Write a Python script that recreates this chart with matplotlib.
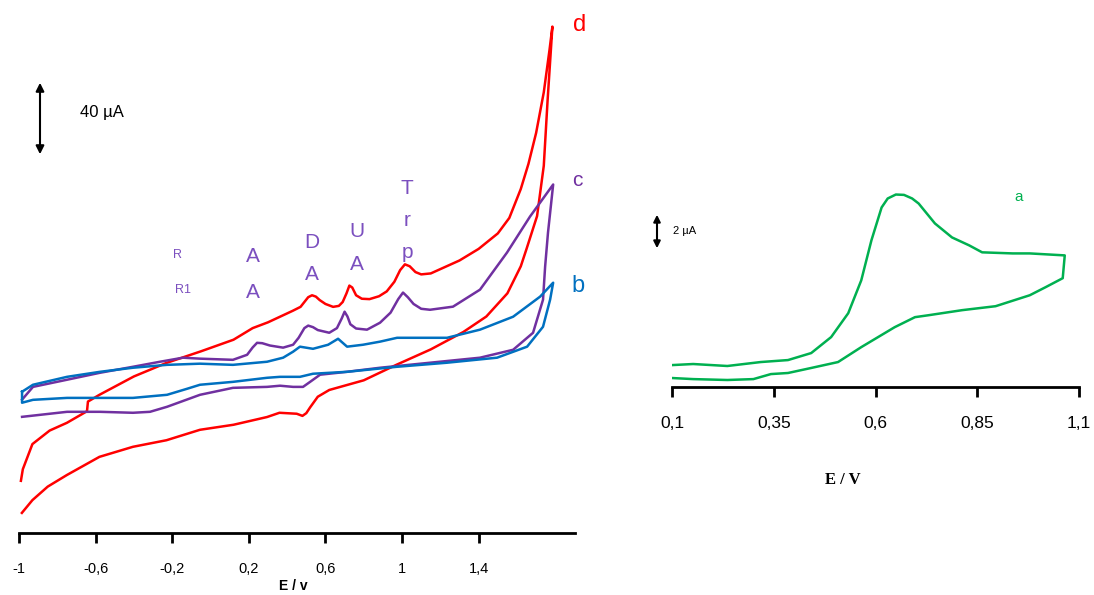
import matplotlib
matplotlib.use("Agg")
import matplotlib.pyplot as plt

plt.rcParams['font.family'] = ['Liberation Sans', 'DejaVu Sans']

# ---- left panel: CVs (E / V, current in uA) ----
d_x = [-0.99, -0.98, -0.93, -0.84, -0.75, -0.645, -0.64, -0.58, -0.40, -0.23, -0.05, 0.12,
       0.22, 0.30, 0.43, 0.47, 0.49, 0.51, 0.53, 0.55, 0.57, 0.60, 0.64, 0.67, 0.69, 0.71,
       0.725, 0.74, 0.76, 0.79, 0.83, 0.88, 0.92, 0.96, 0.99, 1.015, 1.04, 1.07, 1.10, 1.15,
       1.30, 1.40, 1.50, 1.56, 1.62, 1.66, 1.70, 1.74, 1.77, 1.785,
       1.76, 1.74, 1.705, 1.65, 1.62, 1.55, 1.44, 1.32, 1.15, 0.97, 0.80, 0.62, 0.56, 0.52,
       0.50, 0.48, 0.45, 0.36, 0.295, 0.12, -0.055, -0.23, -0.405, -0.58, -0.75, -0.85,
       -0.93, -0.985]
d_y = [27, 33, 46, 53, 57, 63, 68, 71.5, 81, 88, 94, 100,
       106, 109, 115, 117, 119.5, 122, 123, 122.3, 120.5, 118.5, 117, 117.5, 119.5, 124,
       128, 127, 123, 121.2, 121, 122.5, 125, 130, 136, 139, 138, 135, 133.8, 134.3,
       141, 147, 155, 163, 178, 191, 207, 228, 250, 262,
       224, 190, 164, 147, 138, 124, 112, 104, 95, 87, 79, 74, 70.5, 65,
       62, 60.6, 61.7, 62.2, 60, 56, 53.4, 48, 44.6, 39.4, 30, 24,
       17, 10.4]

c_x = [-0.984, -0.927, -0.749, -0.577, -0.405, -0.264, -0.144, -0.055, 0.117, 0.191, 0.22,
       0.243, 0.27, 0.31, 0.379, 0.431, 0.46, 0.49, 0.51, 0.535, 0.56, 0.62, 0.66, 0.685,
       0.70, 0.715, 0.73, 0.76, 0.817, 0.885, 0.94, 0.98, 1.005, 1.03, 1.06, 1.10, 1.146,
       1.266, 1.407, 1.548, 1.668, 1.789,
       1.762, 1.747, 1.736, 1.684, 1.580, 1.407, 1.146, 0.885, 0.713, 0.572, 0.520, 0.483,
       0.431, 0.363, 0.295, 0.117, -0.055, -0.227, -0.316, -0.405, -0.577, -0.749, -0.984]
c_y = [69, 75.6, 79.3, 82.9, 86.0, 88.6, 90.7, 90.2, 89.6, 92.2, 96,
       98.4, 98.2, 97, 95.9, 97.4, 101, 106, 107.3, 106.5, 105, 103.6, 106, 111,
       114.5, 112, 108, 105.8, 105.2, 108.8, 114, 121, 124.4, 122, 118.5, 116, 115.5,
       117.1, 125.9, 145.1, 163.7, 180.3,
       155.4, 137.8, 120.7, 103.6, 94.8, 90.7, 88.1, 85.5, 83.4, 81.9, 78.2, 75.6,
       75.6, 76.2, 75.6, 75.1, 71.5, 65.3, 62.7, 62.2, 62.7, 62.7, 60.1]

b_x = [-0.984, -0.927, -0.749, -0.577, -0.405, -0.227, -0.055, 0.117, 0.295, 0.379, 0.431,
       0.467, 0.535, 0.614, 0.666, 0.713, 0.796, 0.885, 0.974, 1.057, 1.235, 1.407, 1.580,
       1.721, 1.789,
       1.773, 1.736, 1.653, 1.496, 1.235, 0.974, 0.713, 0.535, 0.467, 0.363, 0.295, 0.117,
       -0.055, -0.123, -0.227, -0.405, -0.577, -0.749, -0.927, -0.984, -0.984]
b_y = [73.1, 76.7, 80.8, 83.4, 85.5, 87.0, 87.6, 87.0, 88.6, 90.7, 93.8,
       96.4, 95.3, 97.4, 100.5, 96.4, 97.4, 99.0, 101.0, 101.0, 101.0, 105.2, 111.9,
       122.3, 129.5,
       120.7, 106.7, 96.4, 90.7, 88.1, 86.0, 83.4, 82.4, 80.8, 80.8, 80.3, 78.2,
       76.7, 74.6, 71.5, 69.9, 69.9, 69.9, 68.9, 67.4, 73.1]

left_ticks = [-1, -0.6, -0.2, 0.2, 0.6, 1, 1.4]
left_labels = ['-1', '-0,6', '-0,2', '0,2', '0,6', '1', '1,4']

# ---- right panel: curve a ----
a_x = [0.1, 0.152, 0.236, 0.318, 0.385, 0.442, 0.491, 0.533, 0.565, 0.590, 0.615, 0.63,
       0.65, 0.67, 0.69, 0.706, 0.746, 0.788, 0.830, 0.862, 0.937, 0.979, 1.065,
       1.060, 1.018, 0.979, 0.895, 0.813, 0.731, 0.697, 0.647, 0.565, 0.508, 0.442, 0.385,
       0.343, 0.300, 0.236, 0.152, 0.1]
a_y = [1.22, 1.28, 1.17, 1.39, 1.50, 1.89, 2.78, 4.11, 5.94, 8.17, 10.0, 10.5,
       10.72, 10.7, 10.5, 10.22, 9.11, 8.33, 7.89, 7.5, 7.44, 7.44, 7.33,
       6.06, 5.56, 5.11, 4.5, 4.28, 4.0, 3.89, 3.33, 2.22, 1.39, 1.06, 0.78,
       0.72, 0.44, 0.39, 0.44, 0.5]

right_ticks = [0.1, 0.35, 0.6, 0.85, 1.1]
right_labels = ['0,1', '0,35', '0,6', '0,85', '1,1']

W, H = 1094, 595
fig = plt.figure(figsize=(W / 100, H / 100), dpi=100)


def fx(px):
    return px / W


def fy(py):
    return 1 - py / H


def style_axis(ax):
    for s in ['left', 'top', 'right']:
        ax.spines[s].set_visible(False)
    ax.spines['bottom'].set_linewidth(2)
    ax.set_yticks([])
    ax.tick_params(axis='x', direction='out', length=7, width=2, pad=14)


ax1 = fig.add_axes([fx(19), fy(533), fx(575) - fx(19), fy(15) - fy(533)])
ax1.plot(d_x, d_y, color='#ff0000', lw=1.8)
ax1.plot(c_x, c_y, color='#7030a0', lw=1.8)
ax1.plot(b_x, b_y, color='#0070c0', lw=1.8)
ax1.set_xlim(-1, 1.903)
ax1.set_ylim(0, 268)
ax1.set_xticks(left_ticks)
ax1.set_xticklabels(left_labels, fontsize=10.5)
style_axis(ax1)

ax2 = fig.add_axes([fx(672), fy(387), fx(1079) - fx(672), fy(150) - fy(387)])
ax2.plot(a_x, a_y, color='#00b050', lw=1.8)
ax2.set_xlim(0.1, 1.1)
ax2.set_ylim(0, 13.2)
ax2.set_xticks(right_ticks)
ax2.set_xticklabels(right_labels, fontsize=12.5)
style_axis(ax2)

# axis titles
fig.text(fx(293), fy(586), 'E / v', fontsize=10, fontweight='bold', ha='center', va='center')
fig.text(fx(843), fy(480), 'E / V', fontsize=12, fontweight='bold', ha='center', va='center',
         family=['Liberation Serif', 'DejaVu Serif'])

# curve letters
fig.text(fx(580), fy(25), 'd', color='#ff0000', fontsize=17, ha='center', va='center')
fig.text(fx(577), fy(181), 'c', color='#7030a0', fontsize=15, ha='center', va='center')
fig.text(fx(578), fy(286), 'b', color='#0070c0', fontsize=17, ha='center', va='center')
fig.text(fx(1019), fy(197), 'a', color='#00b050', fontsize=11, ha='center', va='center')

# peak labels
lab_col = '#7b4fbf'
for x, y, s, fs in [(178, 255, 'R', 9), (183, 290, 'R1', 9),
                    (253, 257, 'A', 15), (253, 292, 'A', 15),
                    (312, 243, 'D', 15), (312, 275, 'A', 15),
                    (357, 232, 'U', 15), (357, 265, 'A', 15),
                    (407, 188, 'T', 15), (407, 220, 'r', 15), (407, 252, 'p', 15)]:
    fig.text(fx(x), fy(y), s, color=lab_col, fontsize=fs, ha='center', va='center')

# scale bars
fig.add_artist(matplotlib.patches.FancyArrowPatch((fx(40), fy(80)), (fx(40), fy(157)),
               transform=fig.transFigure, arrowstyle='<|-|>', mutation_scale=12,
               color='black', lw=1.5))
fig.text(fx(80), fy(112), '40 µA', fontsize=12, ha='left', va='center')
fig.add_artist(matplotlib.patches.FancyArrowPatch((fx(657), fy(212)), (fx(657), fy(251)),
               transform=fig.transFigure, arrowstyle='<|-|>', mutation_scale=10,
               color='black', lw=1.5))
fig.text(fx(673), fy(231), '2 µA', fontsize=8, ha='left', va='center')

fig.savefig('out.png', dpi=100)
